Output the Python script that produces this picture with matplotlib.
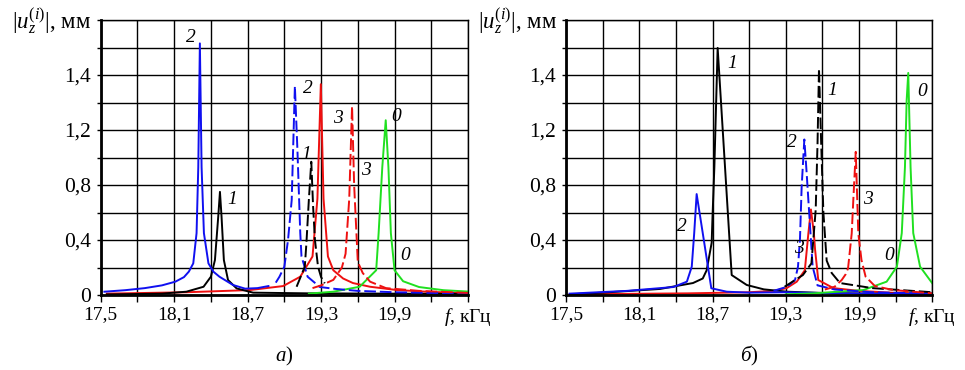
import matplotlib
matplotlib.use("Agg")
import matplotlib.pyplot as plt

plt.rcParams['font.family'] = ['Liberation Serif', 'DejaVu Serif']
plt.rcParams['mathtext.fontset'] = 'custom'
plt.rcParams['mathtext.rm'] = 'Liberation Serif'
plt.rcParams['mathtext.it'] = 'Liberation Serif:italic'
plt.rcParams['mathtext.bf'] = 'Liberation Serif:bold'

# ---- panel a) ----
a_blue_f = [17.53, 17.70, 17.86, 18.00, 18.11, 18.18, 18.22, 18.256, 18.283, 18.297, 18.31,
            18.324, 18.343, 18.38, 18.42, 18.47, 18.58, 18.68, 18.78, 18.87]
a_blue_u = [0.024, 0.035, 0.05, 0.07, 0.097, 0.13, 0.17, 0.23, 0.45, 0.93, 1.83,
            0.93, 0.45, 0.23, 0.17, 0.133, 0.073, 0.046, 0.05, 0.065]
a_black_f = [17.55, 18.0, 18.20, 18.34, 18.40, 18.433, 18.46, 18.474, 18.487, 18.506, 18.54,
             18.61, 18.745, 19.2, 19.8, 20.5]
a_black_u = [0.004, 0.01, 0.024, 0.06, 0.133, 0.254, 0.57, 0.75, 0.57, 0.254, 0.109,
             0.048, 0.017, 0.012, 0.01, 0.008]
a_blue_d_f = [18.93, 18.96, 19.0, 19.03, 19.06, 19.086, 19.107, 19.13, 19.14, 19.19, 19.29,
              19.42, 19.6, 19.9, 20.5]
a_blue_d_u = [0.09, 0.133, 0.206, 0.4, 0.69, 1.518, 1.05, 0.45, 0.28, 0.133, 0.058,
              0.044, 0.03, 0.02, 0.01]
a_black_d_f = [19.10, 19.167, 19.18, 19.20, 19.22, 19.235, 19.25, 19.275, 19.30, 19.33]
a_black_d_u = [0.06, 0.206, 0.375, 0.69, 0.969, 0.64, 0.4, 0.206, 0.13, 0.085]
a_red_f = [17.55, 18.2, 18.72, 18.99, 19.13, 19.23, 19.27, 19.298, 19.32, 19.356, 19.40,
           19.48, 19.56, 19.70, 19.92, 20.2, 20.5]
a_red_u = [0.01, 0.02, 0.036, 0.065, 0.133, 0.28, 0.7, 1.533, 0.7, 0.28, 0.18,
           0.12, 0.087, 0.06, 0.036, 0.022, 0.015]
a_red_d_f = [19.23, 19.30, 19.40, 19.47, 19.50, 19.53, 19.553, 19.57, 19.60, 19.64, 19.70,
             19.83, 20.1, 20.5]
a_red_d_u = [0.05, 0.07, 0.11, 0.2, 0.30, 0.7, 1.373, 0.8, 0.24, 0.16, 0.097,
             0.05, 0.03, 0.015]
a_green_f = [19.2, 19.4, 19.615, 19.75, 19.77, 19.80, 19.828, 19.85, 19.87, 19.90, 19.97,
             20.1, 20.3, 20.5]
a_green_u = [0.01, 0.024, 0.06, 0.18, 0.45, 0.93, 1.271, 0.93, 0.45, 0.18, 0.1,
             0.058, 0.035, 0.025]
a_lbl_text = ['2', '2', '3', '0', '1', '3', '1', '0']
a_lbl_f = [18.237, 19.194, 19.44, 19.91, 19.175, 19.67, 18.577, 19.99]
a_lbl_u = [1.87, 1.50, 1.283, 1.30, 1.024, 0.908, 0.695, 0.29]

# ---- panel б) ----
b_black_f = [17.53, 17.80, 18.27, 18.54, 18.62, 18.652, 18.693, 18.70, 18.715, 18.742, 18.857,
             18.98, 19.12, 19.31, 19.6, 20.0, 20.5]
b_black_u = [0.005, 0.017, 0.044, 0.087, 0.12, 0.18, 0.38, 0.57, 0.93, 1.797, 0.145,
             0.073, 0.041, 0.024, 0.015, 0.01, 0.008]
b_blue_f = [17.53, 18.0, 18.38, 18.49, 18.53, 18.55, 18.57, 18.62, 18.69, 18.816, 19.0,
            19.3, 19.7, 20.5]
b_blue_u = [0.01, 0.03, 0.058, 0.097, 0.206, 0.45, 0.734, 0.45, 0.049, 0.024, 0.017,
            0.02, 0.012, 0.006]
b_blue_d_f = [19.20, 19.31, 19.376, 19.40, 19.416, 19.43, 19.452, 19.47, 19.485, 19.52, 19.56,
              19.7, 20.0, 20.5]
b_blue_d_u = [0.03, 0.06, 0.11, 0.206, 0.4, 0.787, 1.131, 0.9, 0.69, 0.206, 0.07,
              0.04, 0.02, 0.01]
b_black_d_f = [19.29, 19.44, 19.51, 19.545, 19.56, 19.572, 19.59, 19.608, 19.635, 19.676, 19.744,
               20.01, 20.5]
b_black_d_u = [0.06, 0.145, 0.23, 0.62, 1.1, 1.646, 1.1, 0.6, 0.25, 0.16, 0.087,
               0.05, 0.02]
b_red_f = [17.53, 18.5, 19.0, 19.2, 19.307, 19.39, 19.456, 19.485, 19.506, 19.53, 19.54,
           19.566, 19.69, 19.9, 20.2, 20.5]
b_red_u = [0.005, 0.012, 0.02, 0.03, 0.05, 0.097, 0.18, 0.448, 0.622, 0.45, 0.33,
           0.109, 0.05, 0.03, 0.015, 0.01]
b_red_d_f = [19.62, 19.70, 19.758, 19.79, 19.81, 19.84, 19.853, 19.873, 19.894, 19.92, 19.954,
             20.03, 20.18, 20.5]
b_red_d_u = [0.04, 0.06, 0.109, 0.15, 0.194, 0.448, 0.69, 1.041, 0.448, 0.254, 0.133,
             0.065, 0.036, 0.012]
b_green_f = [19.3, 19.525, 19.935, 20.126, 20.21, 20.25, 20.276, 20.29, 20.303, 20.322, 20.344,
             20.4, 20.5]
b_green_u = [0.005, 0.012, 0.036, 0.097, 0.206, 0.45, 0.93, 1.416, 1.615, 0.93, 0.45,
             0.206, 0.085]
b_lbl_text = ['1', '1', '0', '2', '3', '3', '2', '0']
b_lbl_f = [18.857, 19.683, 20.42, 19.35, 19.976, 19.41, 18.447, 20.15]
b_lbl_u = [1.68, 1.49, 1.477, 1.11, 0.695, 0.34, 0.496, 0.29]

x_ticks = [17.5, 17.8, 18.1, 18.4, 18.7, 19.0, 19.3, 19.6, 19.9, 20.2, 20.5]
x_labels = ['17,5', '', '18,1', '', '18,7', '', '19,3', '', '19,9', '', r'$f$, кГц']
y_ticks = [0, 0.2, 0.4, 0.6, 0.8, 1.0, 1.2, 1.4, 1.6, 1.8, 2.0]
y_labels = ['0', '', '0,4', '', '0,8', '', '1,2', '', '1,4', '', '']

BLUE = '#1010f0'
RED = '#ee1010'
GREEN = '#20e020'
DASH = (6, 2)

fig = plt.figure(figsize=(9.65, 3.70), dpi=100)
W, H = 965.0, 370.0


def make_axes(x0, x1, y_top, y_bot):
    return fig.add_axes([x0 / W, 1 - y_bot / H, (x1 - x0) / W, (y_bot - y_top) / H])


def style(ax):
    ax.set_xlim(17.5, 20.5)
    ax.set_ylim(0, 2.0)
    ax.set_xticks(x_ticks)
    ax.set_xticklabels(x_labels, fontsize=14)
    ax.set_yticks(y_ticks)
    ax.set_yticklabels(y_labels, fontsize=15.5)
    ax.grid(True, color='black', lw=1.0)
    ax.set_axisbelow(True)
    ax.tick_params(axis='x', length=5, width=1, pad=3)
    ax.tick_params(axis='y', length=3, width=1, pad=4)
    for s in ['top', 'right']:
        ax.spines[s].set_linewidth(1.0)
    for s in ['left', 'bottom']:
        ax.spines[s].set_linewidth(2.0)


def draw(ax, curves, lbl_text, lbl_f, lbl_u):
    for f, u, c, dashed in curves:
        if dashed:
            ax.plot(f, u, color=c, lw=1.4, dashes=DASH)
        else:
            ax.plot(f, u, color=c, lw=1.4)
    for t, f, u in zip(lbl_text, lbl_f, lbl_u):
        ax.text(f, u, t, fontsize=14, style='italic', ha='center', va='center')


ax1 = make_axes(100.7, 468.0, 20.0, 295.0)
style(ax1)
draw(ax1, [
    (a_red_f, a_red_u, RED, False),
    (a_black_f, a_black_u, 'black', False),
    (a_blue_f, a_blue_u, BLUE, False),
    (a_green_f, a_green_u, GREEN, False),
    (a_blue_d_f, a_blue_d_u, BLUE, True),
    (a_black_d_f, a_black_d_u, 'black', True),
    (a_red_d_f, a_red_d_u, RED, True),
], a_lbl_text, a_lbl_f, a_lbl_u)

ax2 = make_axes(566.0, 932.3, 20.0, 295.0)
style(ax2)
draw(ax2, [
    (b_red_f, b_red_u, RED, False),
    (b_black_f, b_black_u, 'black', False),
    (b_blue_f, b_blue_u, BLUE, False),
    (b_green_f, b_green_u, GREEN, False),
    (b_blue_d_f, b_blue_d_u, BLUE, True),
    (b_black_d_f, b_black_d_u, 'black', True),
    (b_red_d_f, b_red_d_u, RED, True),
], b_lbl_text, b_lbl_f, b_lbl_u)

ylab = r'$|u_z^{(i)}|$, мм'
fig.text(91 / W, 1 - 21 / H, ylab, fontsize=16.5, ha='right', va='center')
fig.text(557 / W, 1 - 21 / H, ylab, fontsize=16.5, ha='right', va='center')

fig.text(284 / W, 1 - 356 / H, r'$\mathit{а}$)', fontsize=15, ha='center', va='center')
fig.text(749 / W, 1 - 356 / H, r'$\mathit{б}$)', fontsize=15, ha='center', va='center')

fig.savefig('out.png', dpi=100)
